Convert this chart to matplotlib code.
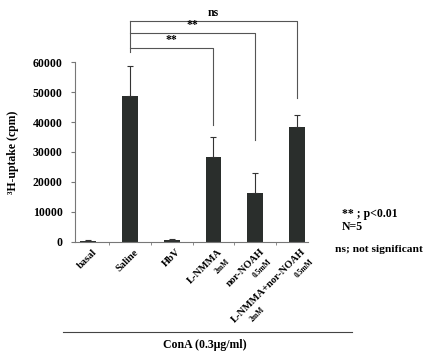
import numpy as np
import matplotlib.pyplot as plt
from matplotlib.transforms import offset_copy, blended_transform_factory

# values
groups = ['basal', 'Saline', 'HbV', 'L-NMMA', 'nor-NOAH', 'L-NMMA+nor-NOAH']
doses = ['', '', '', '2mM', '0.5mM', '0.5mM']
extra_dose = '2mM'   # second dose under the combo label
means = [300, 48700, 500, 28300, 16300, 38300]
errs = [200, 10000, 400, 6700, 6700, 4000]
yticks = [0, 10000, 20000, 30000, 40000, 50000, 60000]

# brackets: (left group, right group, bar level, right drop, label)
brackets = [
    (1, 3, 64700, 39000, '**'),
    (1, 4, 69700, 34000, '**'),
    (1, 5, 73700, 48000, 'ns'),
]
left_drop = 63300

plt.rcParams['font.family'] = ['Liberation Serif', 'DejaVu Serif']
plt.rcParams['font.weight'] = 'bold'

fig = plt.figure(figsize=(4.26, 3.51), dpi=100)
ax = fig.add_axes([0.176, 0.311, 0.547, 0.512])

x = np.arange(len(groups))
ax.bar(x, means, width=0.38, color='#2a2e2c', zorder=2)
ax.errorbar(x, means, yerr=[np.zeros(len(errs)), errs], fmt='none',
            ecolor='#333333', elinewidth=0.8, capsize=2.5, capthick=0.8, zorder=3)

ax.set_xlim(-0.31, 5.26)
ax.set_ylim(0, 60000)
ax.set_yticks(yticks)
ax.set_yticklabels([str(v) for v in yticks], fontsize=8.5, fontweight='bold')
ax.set_xticks(x)
ax.set_xticklabels([])
ax.set_xticks(x[:-1] + 0.5, minor=True)
ax.tick_params(axis='x', which='major', length=0)
ax.tick_params(axis='x', which='minor', length=2.5, color='#777777', direction='out')
ax.tick_params(axis='y', length=3, color='#777777', pad=6)

for side in ['top', 'right']:
    ax.spines[side].set_visible(False)
for side in ['left', 'bottom']:
    ax.spines[side].set_color('#777777')
    ax.spines[side].set_linewidth(0.8)

ax.set_ylabel('\u00b3H-uptake (cpm)', fontsize=8.5, fontweight='bold', labelpad=10)

# rotated category labels
tr = blended_transform_factory(ax.transData, ax.transAxes)
for i, (g, d) in enumerate(zip(groups, doses)):
    base = offset_copy(tr, fig=fig, x=3, y=-4, units='points')
    ax.text(i, 0, g, transform=base, rotation=45, rotation_mode='anchor',
            ha='right', va='top', fontsize=7.5, fontweight='bold')
    if d:
        sub = offset_copy(tr, fig=fig, x=9, y=-11, units='points')
        ax.text(i, 0, d, transform=sub, rotation=45, rotation_mode='anchor',
                ha='right', va='top', fontsize=5.5, fontweight='bold')
sub2 = offset_copy(tr, fig=fig, x=-26, y=-46, units='points')
ax.text(5, 0, extra_dose, transform=sub2, rotation=45, rotation_mode='anchor',
        ha='right', va='top', fontsize=5.5, fontweight='bold')

# significance brackets
top = max(b[2] for b in brackets)
ax.plot([1, 1], [left_drop, top], color='#555555', lw=0.8, clip_on=False)
for a, b, lvl, drop, lab in brackets:
    ax.plot([a, b, b], [lvl, lvl, drop], color='#555555', lw=0.8, clip_on=False)
    ax.text((a + b) / 2, lvl + 600, lab, ha='center', va='bottom',
            fontsize=8.5, fontweight='bold')

# notes on the right
fig.text(342 / 426, 1 - 214 / 351, '** ; p<0.01', fontsize=8.5, fontweight='bold', va='center')
fig.text(342 / 426, 1 - 227 / 351, 'N=5', fontsize=8.5, fontweight='bold', va='center')
fig.text(335 / 426, 1 - 250 / 351, 'ns; not significant', fontsize=8.2, fontweight='bold', va='center')

# ConA line and caption
fig.add_artist(plt.Line2D([63 / 426, 352 / 426], [1 - 332 / 351] * 2,
                          color='#444444', lw=0.8))
fig.text(205 / 426, 1 - 345 / 351, 'ConA (0.3\u03bcg/ml)', ha='center', va='center',
         fontsize=8.5, fontweight='bold')

fig.savefig('out.png', dpi=100)
